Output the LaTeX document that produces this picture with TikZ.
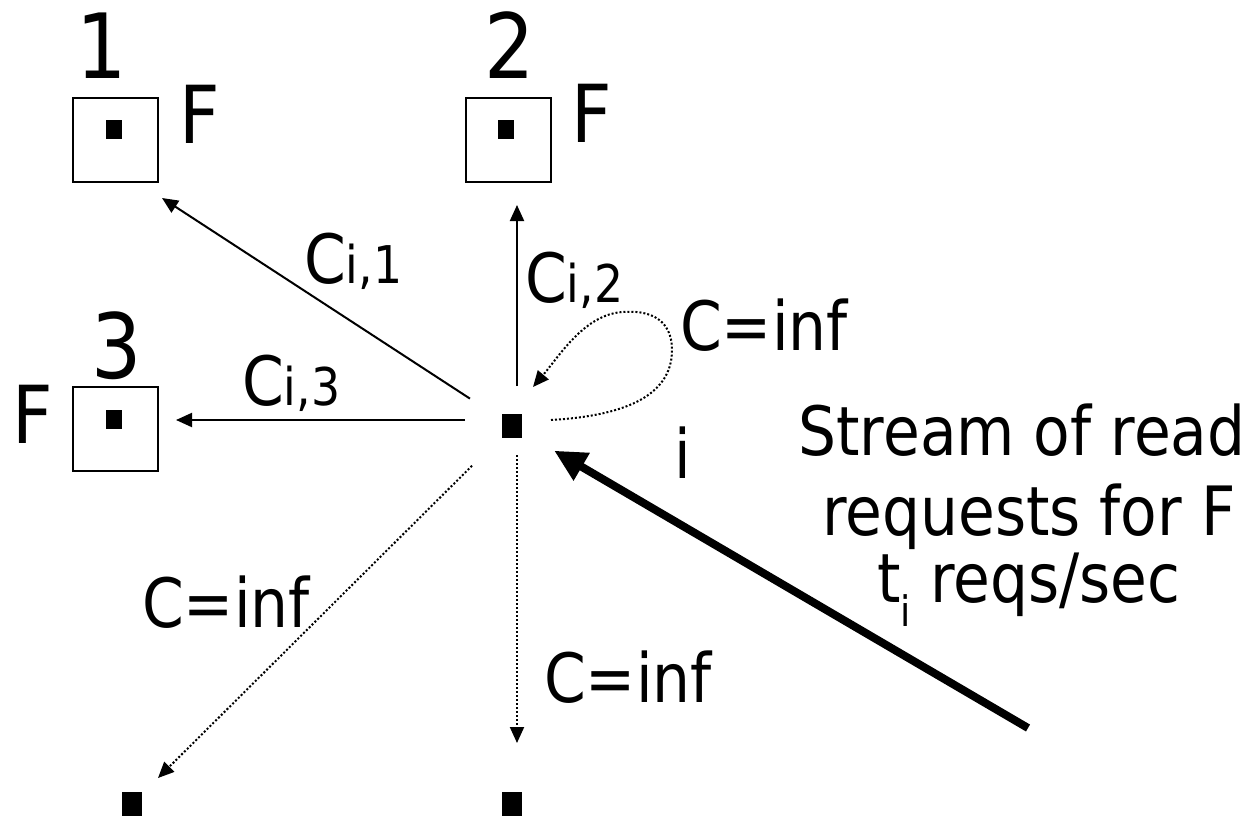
\documentclass[tikz,border=0pt]{standalone}
\usepackage{fontspec}
\setmainfont{DejaVu Sans}[FakeStretch=0.88]
\usetikzlibrary{arrows.meta}
\newcommand{\subsz}{\fontsize{52}{52}\selectfont}
\begin{document}
\begin{tikzpicture}[x=1pt,y=-1pt,
  box/.style={draw, line width=2pt, minimum width=85pt, minimum height=84pt, inner sep=0pt, outer sep=0pt},
  sdot/.style={fill, draw=none, minimum width=16pt, minimum height=19pt, inner sep=0pt},
  bdot/.style={fill, draw=none, minimum width=20pt, minimum height=24pt, inner sep=0pt},
  lbl/.style={inner sep=0pt, anchor=base west, font=\fontsize{68}{68}\selectfont},
  clbl/.style={inner sep=0pt, anchor=base, font=\fontsize{68}{68}\selectfont},
  num/.style={inner sep=0pt, anchor=base, font=\fontsize{90}{90}\selectfont},
  flbl/.style={inner sep=0pt, anchor=base west, font=\fontsize{80}{80}\selectfont},
  arr/.style={line width=2pt, -{Triangle[length=16pt,width=14pt]}},
  darr/.style={arr, dash pattern=on 2pt off 2pt},
  thk/.style={line width=8pt, -{Triangle[length=32pt,width=30pt]}}]
\useasboundingbox (0,0) rectangle (1259,817);

% boxes with replicas
\node[box] (b1) at (115,139.5) {};
\node[sdot] (d1) at (114,129) {};
\node[box] (b2) at (508,139.5) {};
\node[sdot] (d2) at (506,129) {};
\node[box] (b3) at (115.5,429) {};
\node[sdot] (d3) at (114,419) {};

% number labels and F labels
\node[num] (n1) at (102,78) {1};
\node[num] (n2) at (510,78) {2};
\node[num] (n3) at (117,378) {3};
\node[flbl] (f1) at (179,143) {F};
\node[flbl] (f2) at (571,142) {F};
\node[flbl] (f3) at (12,443) {F};

% central node and sinks
\node[bdot] (c) at (512,426) {};
\node[bdot] (bl) at (131.5,804) {};
\node[bdot] (bm) at (512,804) {};

% arrow end coordinates
\coordinate (t1) at (162,198);
\coordinate (t2) at (517,205);
\coordinate (t3) at (176,420);
\coordinate (t4) at (158,778);
\coordinate (t5) at (517,743);
\coordinate (src) at (1028,728);

% connectors
\draw[arr, shorten <=38pt] (c) -- (t1);
\draw[arr, shorten <=40pt] ([xshift=5pt]c.center) -- (t2);
\draw[arr, shorten <=47pt] ([yshift=6pt]c.center) -- (t3);
\draw[darr, shorten <=42pt] (c) -- (t4);
\draw[darr, shorten <=29pt] ([xshift=5pt]c.center) -- (t5);
\draw[darr] ([xshift=39pt,yshift=6pt]c.center)
   .. controls (620,416) and (672,398) .. (672,350)
   .. controls (672,318) and (648,310) .. (623,312)
   .. controls (585,314) and (560,355) .. (533,387);
\draw[thk, shorten >=37pt] (src) -- (c);

% edge labels
\node[lbl] (l1) at (304,283) {C{\subsz i,1}};
\node[lbl] (l2) at (525,302) {C{\subsz i,2}};
\node[lbl] (l3) at (242,405) {C{\subsz i,3}};
\node[lbl] (lloop) at (680,350) {C=inf};
\node[lbl] (ldl) at (142,627) {C=inf};
\node[lbl] (ldm) at (544,702) {C=inf};
\node[lbl] (li) at (674,478) {i};

% stream text
\node[clbl] (s1) at (1022,455) {Stream of read};
\node[clbl] (s2) at (1029,535) {requests for F};
\node[clbl] (s3) at (1029,602) {t\raisebox{-24pt}{\fontsize{42}{42}\selectfont i} reqs/sec};
\end{tikzpicture}
\end{document}
